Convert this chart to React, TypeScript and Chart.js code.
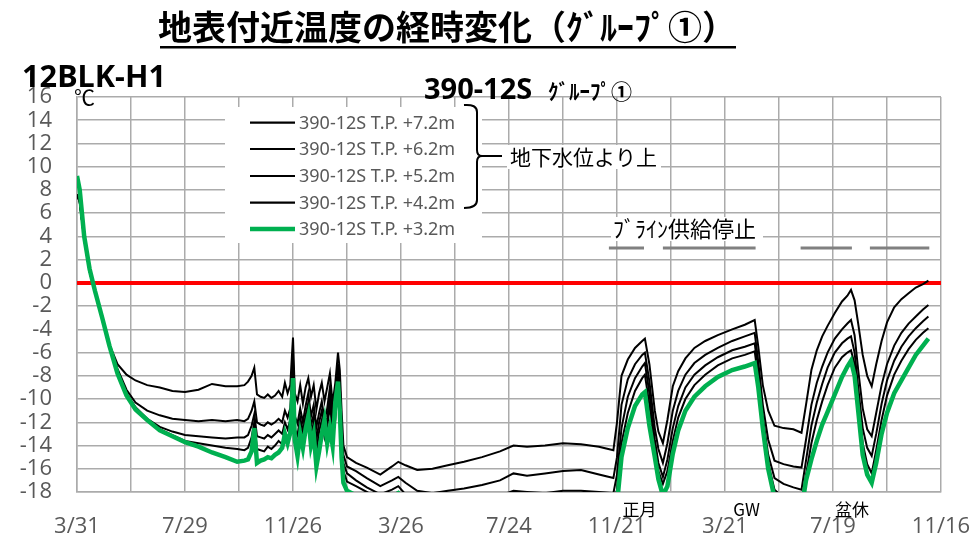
import React, { useEffect, useRef } from "react";
import { Chart, registerables } from "chart.js";
Chart.register(...registerables);

// ---- data (days since 3/31, °C) ----
const days = [
  0, 3, 8, 14, 20, 28, 36, 45, 55, 65, 78, 92, 106, 120, 135, 150, 165, 178,
  186, 190, 194, 197, 200, 204, 208, 212, 216, 220, 224, 228, 231, 234, 237, 239, 240, 242, 245, 248, 251, 254, 257, 260, 263, 266, 269, 272, 275, 278, 281, 284, 287, 290, 292, 294, 296, 300,
  310, 322, 337, 350, 357, 365, 378, 395, 412, 430, 450, 470, 485, 500, 520, 540, 560, 580, 596,
  600, 605, 612, 620, 628, 631, 636, 642, 646, 651, 656, 662, 668, 676, 686, 698, 712, 728, 742, 753, 757, 762, 768, 775, 785, 796, 805,
  810, 816, 822, 828, 834, 842, 850, 856, 860, 864, 868, 873, 878, 883, 888, 894, 900, 908, 916, 924, 932, 940, 946,
];

const tp72 = [
  7.6, 7.0, 3.8, 1.0, -0.8, -3.1, -5.3, -7.0, -7.9, -8.4, -8.8, -9.0, -9.3, -9.4, -9.2, -8.7, -8.9, -8.9,
  -8.8, -8.5, -8.0, -7.3, -9.6, -9.8, -9.9, -9.6, -9.9, -9.7, -9.3, -9.8, -8.6, -9.5, -8.8, -6.0, -4.7, -9.5, -10.2, -8.8, -10.4, -9.0, -8.2, -9.8, -8.8, -10.9, -9.5, -8.6, -10.2, -9.0, -7.8, -10.4, -8.6, -6.0, -7.5, -11.0, -14.0, -15.0,
  -15.5, -15.9, -16.5, -15.8, -15.4, -15.7, -16.1, -16.0, -15.7, -15.4, -15.0, -14.5, -14.0, -14.1, -14.0, -13.8, -13.9, -14.1, -14.4,
  -12.0, -8.0, -6.6, -5.6, -5.0, -4.8, -7.0, -11.0, -12.8, -13.8, -11.8, -8.9, -7.6, -6.5, -5.6, -5.0, -4.5, -4.0, -3.6, -3.2, -5.5, -8.8, -11.0, -12.3, -12.5, -12.6, -12.9,
  -10.5, -7.5, -5.8, -4.6, -3.7, -2.6, -1.6, -1.1, -0.6, -1.5, -3.5, -6.2, -8.0, -8.9, -7.0, -5.0, -3.4, -2.1, -1.4, -0.9, -0.4, -0.1, 0.2,
];

const tp62 = [
  7.6, 7.0, 3.8, 1.0, -0.8, -3.1, -5.4, -7.4, -9.2, -10.3, -11.0, -11.4, -11.7, -11.8, -11.9, -11.8, -11.9, -11.8,
  -11.9, -11.7, -11.0, -10.2, -12.0, -12.2, -12.3, -12.0, -12.2, -12.0, -11.7, -12.0, -11.0, -11.6, -10.8, -8.0, -6.5, -11.5, -12.1, -10.8, -12.0, -10.6, -9.5, -11.5, -10.5, -12.4, -11.2, -10.2, -11.8, -10.8, -9.0, -11.6, -10.2, -7.0, -8.8, -12.5, -14.8, -15.8,
  -16.2, -16.8, -17.5, -17.0, -16.7, -17.2, -17.9, -18.1, -17.9, -17.7, -17.4, -17.0, -16.4, -16.6, -16.4, -16.2, -16.1, -16.5, -16.8,
  -15.0, -10.5, -8.3, -7.0, -6.2, -6.0, -8.5, -12.5, -14.3, -15.5, -13.8, -11.0, -9.3, -7.9, -6.9, -6.2, -5.6, -5.0, -4.6, -4.3, -6.8, -10.5, -13.5, -15.3, -15.6, -15.8, -15.9,
  -13.5, -10.5, -8.6, -7.2, -6.0, -4.8, -4.0, -3.5, -3.2, -4.5, -7.5, -10.8, -12.6, -13.2, -11.2, -8.8, -7.0, -5.4, -4.3, -3.5, -2.9, -2.3, -1.9,
];

const tp52 = [
  7.6, 7.0, 3.8, 1.0, -0.8, -3.1, -5.4, -7.6, -9.5, -10.7, -11.7, -12.4, -12.8, -13.1, -13.2, -13.3, -13.4, -13.3,
  -13.3, -13.1, -12.3, -11.3, -13.2, -13.3, -13.4, -13.1, -13.3, -13.0, -12.7, -13.0, -12.0, -12.6, -11.8, -9.0, -7.2, -12.6, -13.1, -11.6, -12.8, -11.4, -10.3, -12.3, -11.3, -13.5, -12.0, -11.0, -12.5, -11.6, -9.8, -12.3, -11.0, -7.8, -9.6, -13.5, -15.5, -16.4,
  -17.0, -17.6, -18.2, -17.8, -17.5, -18.2, -18.8, -19.0, -19.0, -18.9, -18.6, -18.3, -17.9, -18.0, -18.1, -17.9, -17.9, -18.0, -18.1,
  -16.5, -12.5, -9.8, -8.2, -7.2, -6.9, -9.5, -13.5, -15.5, -16.7, -15.2, -12.5, -10.6, -9.0, -7.9, -7.1, -6.4, -5.8, -5.5, -5.2, -7.6, -11.5, -14.8, -16.8, -17.3, -17.6, -17.8,
  -15.3, -12.3, -10.3, -8.7, -7.3, -6.0, -5.2, -4.8, -4.6, -6.0, -9.0, -12.5, -14.2, -14.9, -13.0, -10.4, -8.4, -6.7, -5.5, -4.6, -3.9, -3.3, -2.9,
];

const tp42 = [
  7.6, 7.0, 3.8, 1.0, -0.8, -3.1, -5.4, -7.7, -9.6, -10.8, -11.8, -12.6, -13.1, -13.6, -13.8, -14.0, -14.2, -14.3,
  -14.4, -14.2, -13.3, -12.0, -14.3, -14.4, -14.5, -14.1, -14.3, -14.0, -13.6, -13.9, -12.8, -13.4, -12.6, -9.8, -7.8, -13.5, -14.0, -12.3, -13.5, -12.0, -11.0, -13.2, -12.0, -14.6, -12.8, -11.8, -13.3, -12.4, -10.5, -13.0, -11.8, -8.2, -10.2, -14.2, -16.2, -17.1,
  -17.5, -18.0, -18.6, -18.3, -18.0, -18.6, -19.2, -19.5, -19.5, -19.5, -19.3, -19.1, -18.8, -18.9, -19.0, -18.9, -18.9, -19.0, -19.0,
  -17.8, -13.8, -11.2, -9.3, -8.2, -7.9, -10.5, -14.2, -16.2, -17.3, -16.2, -13.6, -11.6, -10.0, -8.8, -7.9, -7.1, -6.5, -6.2, -5.9, -8.2, -12.0, -15.5, -17.8, -18.5, -18.8, -19.0,
  -16.5, -13.8, -11.8, -10.2, -8.8, -7.3, -6.4, -6.0, -5.8, -7.0, -10.0, -13.8, -15.6, -16.4, -14.4, -11.8, -9.7, -7.9, -6.7, -5.7, -4.9, -4.3, -3.9,
];

const tp32 = [
  9.2, 8.0, 4.0, 1.2, -0.7, -3.0, -5.4, -7.8, -9.7, -10.9, -11.8, -12.7, -13.2, -13.7, -14.1, -14.6, -15.0, -15.4,
  -15.3, -15.2, -14.5, -12.5, -15.5, -15.3, -15.2, -15.0, -15.1, -14.8, -14.6, -14.2, -13.0, -13.8, -12.9, -10.0, -8.2, -13.5, -14.9, -13.0, -14.2, -12.6, -11.5, -14.0, -13.0, -15.8, -14.5, -13.0, -11.8, -13.8, -12.5, -14.0, -10.3, -8.5, -11.0, -15.0, -17.2, -17.9,
  -18.3, -18.6, -19.0, -18.4, -18.1, -18.8, -19.5, -20, -20, -20, -20, -20, -20, -20, -20, -20, -20, -20, -20,
  -19.0, -15.0, -12.5, -10.6, -9.6, -9.4, -12.3, -15.0, -16.9, -18.3, -17.5, -14.7, -12.7, -11.0, -9.8, -8.9, -8.1, -7.5, -7.2, -6.9, -9.0, -12.5, -16.0, -18.5, -19.5, -20, -19.5,
  -17.0, -15.2, -13.6, -12.2, -11.1, -9.6, -8.1, -7.2, -6.7, -8.0, -11.0, -14.8, -16.5, -17.2, -15.5, -13.0, -11.2, -9.5, -8.4, -7.3, -6.2, -5.4, -4.8,
];

const seriesNames = [
  "390-12S T.P. +7.2m",
  "390-12S T.P. +6.2m",
  "390-12S T.P. +5.2m",
  "390-12S T.P. +4.2m",
  "390-12S T.P. +3.2m",
];

const xTickLabels = ["3/31", "7/29", "11/26", "3/26", "7/24", "11/21", "3/21", "7/19", "11/16"];
const xLabelEvery = 120;
const xGridEvery = 60;
const yMin = -18;
const yMax = 16;
const yStep = 2;

const brineStart = [591, 651, 804, 881];
const brineEnd = [630, 754, 861, 947];
const brineLevel = 3;

const holidayLabels = ["正月", "GW", "盆休"];
const holidayDays = [625, 744, 861];

const GREEN = "#00b050";
const GRAY_TEXT = "#595959";
const GRID = "#ababab";
const JP = "'Noto Sans CJK JP', 'Noto Sans', sans-serif";
const LAT = "'Noto Sans', 'Open Sans', sans-serif";

const overlay = {
  id: "overlay",
  afterDraw(chart: any) {
    const ctx: CanvasRenderingContext2D = chart.ctx;
    const xs = chart.scales.x;
    ctx.save();

    // Title
    ctx.fillStyle = "#000";
    ctx.textAlign = "center";
    ctx.textBaseline = "middle";
    ctx.font = `bold 34px ${JP}`;
    ctx.fillText("地表付近温度の経時変化（ｸﾞﾙｰﾌﾟ①）", 447, 27, 578);
    ctx.fillRect(160, 46, 576, 2.5);

    // Sub headers
    ctx.textAlign = "left";
    ctx.textBaseline = "alphabetic";
    ctx.font = `bold 31px ${LAT}`;
    ctx.fillText("12BLK-H1", 22, 87, 144);
    ctx.font = `bold 29px ${LAT}`;
    ctx.fillText("390-12S", 424, 99, 117);
    ctx.font = `bold 21px ${JP}`;
    ctx.fillText("ｸﾞﾙｰﾌﾟ①", 548, 99, 92);

    // unit
    ctx.font = `21px ${JP}`;
    ctx.textBaseline = "middle";
    ctx.fillText("℃", 74, 97);

    // Legend box
    ctx.fillStyle = "#fff";
    ctx.fillRect(225, 107, 257, 136);
    const rowY = [122.7, 149, 176, 202.7, 229];
    for (let i = 0; i < seriesNames.length; i++) {
      const isG = i === seriesNames.length - 1;
      ctx.strokeStyle = isG ? GREEN : "#000";
      ctx.lineWidth = isG ? 4.5 : 2.2;
      ctx.beginPath();
      ctx.moveTo(250, rowY[i]);
      ctx.lineTo(295, rowY[i]);
      ctx.stroke();
      ctx.fillStyle = GRAY_TEXT;
      ctx.font = `18px ${LAT}`;
      ctx.textAlign = "left";
      ctx.textBaseline = "middle";
      ctx.fillText(seriesNames[i], 299, rowY[i] + 1, 159);
    }

    // Bracket
    ctx.strokeStyle = "#000";
    ctx.lineWidth = 2;
    ctx.beginPath();
    ctx.moveTo(464, 105);
    ctx.quadraticCurveTo(477, 104, 477, 112);
    ctx.lineTo(477, 150);
    ctx.quadraticCurveTo(477, 156, 482, 156);
    ctx.quadraticCurveTo(477, 156, 477, 162);
    ctx.lineTo(477, 200);
    ctx.quadraticCurveTo(477, 208, 464, 208);
    ctx.moveTo(481, 156);
    ctx.lineTo(502, 156);
    ctx.stroke();

    ctx.fillStyle = "#fff";
    ctx.fillRect(507, 145, 154, 24);
    ctx.fillStyle = "#000";
    ctx.font = `21px ${JP}`;
    ctx.textAlign = "left";
    ctx.textBaseline = "middle";
    ctx.fillText("地下水位より上", 510, 157, 150);

    // Brine stop label
    ctx.fillStyle = "#fff";
    ctx.fillRect(611, 217, 152, 24);
    ctx.fillStyle = "#000";
    ctx.font = `22px ${JP}`;
    ctx.fillText("ﾌﾞﾗｲﾝ供給停止", 613, 229, 148);

    // Holiday annotations
    ctx.font = `17px ${JP}`;
    ctx.textAlign = "center";
    for (let i = 0; i < holidayLabels.length; i++) {
      ctx.fillText(holidayLabels[i], xs.getPixelForValue(holidayDays[i]), 510);
    }
    ctx.restore();
  },
};

export default function App() {
  const ref = useRef<HTMLCanvasElement>(null);
  useEffect(() => {
    const mk = (arr: number[]) => days.map((d, i) => ({ x: d, y: arr[i] }));
    const series = [tp72, tp62, tp52, tp42, tp32];
    const datasets: any[] = series.map((arr, i) => {
      const isG = i === series.length - 1;
      return {
        label: seriesNames[i],
        data: mk(arr),
        borderColor: isG ? GREEN : "#000",
        borderWidth: isG ? 4.5 : 2,
        pointRadius: 0,
        tension: 0,
        order: isG ? 0 : 1,
      };
    });
    datasets.push({
      label: "zero",
      data: [
        { x: 0, y: 0 },
        { x: 960, y: 0 },
      ],
      borderColor: "#ff0000",
      borderWidth: 4,
      pointRadius: 0,
      order: 5,
    });
    brineStart.forEach((s, i) => {
      datasets.push({
        label: "brine" + i,
        data: [
          { x: s, y: brineLevel },
          { x: brineEnd[i], y: brineLevel },
        ],
        borderColor: "#808080",
        borderWidth: 3,
        pointRadius: 0,
        order: 4,
      });
    });

    const chart = new Chart(ref.current!, {
      type: "line",
      data: { datasets },
      options: {
        animation: false,
        responsive: false,
        devicePixelRatio: 1,
        layout: { padding: { top: 97, right: 35, left: 0, bottom: 0 } },
        plugins: { legend: { display: false }, tooltip: { enabled: false } },
        scales: {
          x: {
            type: "linear",
            min: 0,
            max: 960,
            afterFit: (s: any) => {
              s.height = 54;
              s.paddingLeft = 0;
              s.paddingRight = 0;
            },
            grid: { color: GRID, lineWidth: 1.5, drawTicks: false },
            border: { color: GRID, width: 1.5 },
            ticks: {
              stepSize: xGridEvery,
              autoSkip: false,
              maxRotation: 0,
              padding: 22,
              color: GRAY_TEXT,
              font: { family: "'Open Sans', sans-serif", size: 22 },
              callback: (v: any) => {
                const k = Number(v) / xLabelEvery;
                return Number.isInteger(k) ? xTickLabels[k] ?? "" : "";
              },
            },
          },
          y: {
            min: yMin,
            max: yMax,
            afterFit: (s: any) => {
              s.width = 77;
              s.paddingTop = 0;
              s.paddingBottom = 0;
            },
            grid: { color: GRID, lineWidth: 1.5, drawTicks: false },
            border: { color: GRID, width: 1.5 },
            ticks: {
              stepSize: yStep,
              autoSkip: false,
              padding: 25,
              color: GRAY_TEXT,
              font: { family: "'Open Sans', sans-serif", size: 22 },
            },
          },
        },
      },
      plugins: [overlay],
    } as any);
    return () => chart.destroy();
  }, []);
  return (
    <div style={{ position: "fixed", left: 0, top: 0, width: 976, height: 546, background: "#fff" }}>
      <canvas ref={ref} width={976} height={546} style={{ width: 976, height: 546 }} />
    </div>
  );
}
